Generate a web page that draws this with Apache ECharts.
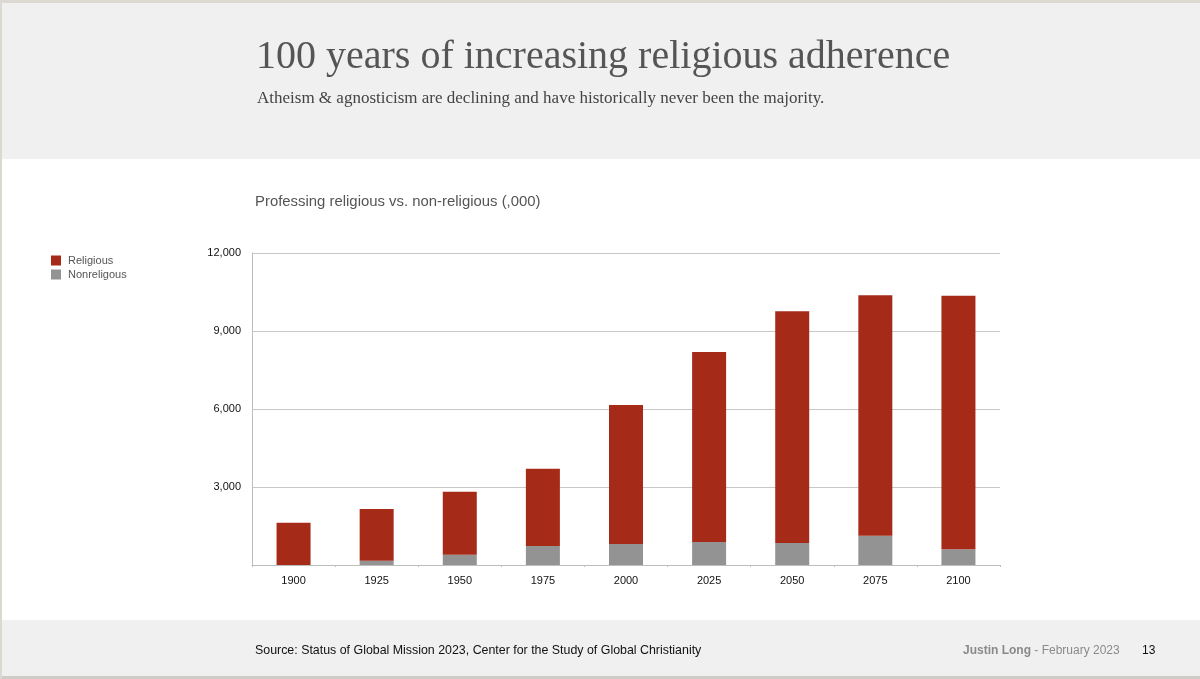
<!DOCTYPE html>
<html>
<head>
<meta charset="utf-8">
<script src="https://cdn.jsdelivr.net/npm/echarts@6/dist/echarts.min.js"></script>
<style>
  html, body { margin: 0; padding: 0; background: #fff; }
  #renderChart { width: 1200px; height: 679px; }
</style>
</head>
<body>
<div id="renderChart"></div>
<script>
// data (thousands)
const years = ['1900', '1925', '1950', '1975', '2000', '2025', '2050', '2075', '2100'];
const nonreligious = [3, 165, 397, 731, 808, 885, 846, 1128, 603];
const religious = [1624, 1989, 2423, 2974, 5346, 7307, 8910, 9244, 9756];
const yTicks = [0, 3000, 6000, 9000, 12000];

const myChart = echarts.init(document.getElementById('renderChart'));

const option = {
  backgroundColor: '#fff',
  animation: false,
  graphic: [
    // header / footer bands + frame
    { type: 'rect', shape: { x: 0, y: 0, width: 1200, height: 159 }, style: { fill: '#f0f0f0' }, z: -10 },
    { type: 'rect', shape: { x: 0, y: 620, width: 1200, height: 59 }, style: { fill: '#f0f0f0' }, z: -10 },
    { type: 'rect', shape: { x: 0, y: 0, width: 1200, height: 3 }, style: { fill: '#dcd8d2' }, z: -9 },
    { type: 'rect', shape: { x: 0, y: 676, width: 1200, height: 3 }, style: { fill: '#cfcbc6' }, z: -9 },
    { type: 'rect', shape: { x: 0, y: 0, width: 2, height: 679 }, style: { fill: '#dcd8d2' }, z: -9 },
    {
      type: 'text', left: 256, top: 37,
      style: { text: '100 years of increasing religious adherence', font: '40px "Liberation Serif"', fill: '#555' }
    },
    {
      type: 'text', left: 257, top: 90,
      style: { text: 'Atheism & agnosticism are declining and have historically never been the majority.', font: '17px "Liberation Serif"', fill: '#444' }
    },
    {
      type: 'text', left: 255, top: 194,
      style: { text: 'Professing religious vs. non-religious (,000)', font: '14.9px "Liberation Sans"', fill: '#555' }
    },
    {
      type: 'text', left: 255, top: 645,
      style: { text: 'Source: Status of Global Mission 2023, Center for the Study of Global Christianity', font: '12.4px "Liberation Sans"', fill: '#111' }
    },
    {
      type: 'text', left: 963, top: 645,
      style: { text: '{b|Justin Long} - February 2023', font: '12px "Liberation Sans"', fill: '#8a8a8a',
        rich: { b: { fontWeight: 'bold', fontFamily: 'Liberation Sans', fontSize: 12, fill: '#8a8a8a' } } }
    },
    {
      type: 'text', left: 1142, top: 645,
      style: { text: '13', font: '12px "Liberation Sans"', fill: '#111' }
    }
  ],
  legend: {
    orient: 'vertical',
    left: 51,
    top: 255,
    padding: 0,
    itemWidth: 10,
    itemHeight: 10,
    itemGap: 3,
    icon: 'rect',
    textStyle: { fontFamily: 'Liberation Sans', fontSize: 11, color: '#555', padding: [0, 0, 0, 2] },
    data: ['Religious', 'Nonreligous']
  },
  grid: { left: 252, right: 200, top: 253, bottom: 114, containLabel: false },
  xAxis: {
    type: 'category',
    data: years,
    axisLine: { lineStyle: { color: '#bdbdbd' } },
    axisTick: { show: true, length: 2, lineStyle: { color: '#bdbdbd' } },
    axisLabel: { fontFamily: 'Liberation Sans', fontSize: 11, color: '#111', margin: 10 }
  },
  yAxis: {
    type: 'value',
    min: yTicks[0],
    max: yTicks[yTicks.length - 1],
    interval: 3000,
    axisLine: { show: true, lineStyle: { color: '#bdbdbd' } },
    axisTick: { show: false },
    splitLine: { lineStyle: { color: '#c8c8c8' } },
    axisLabel: {
      fontFamily: 'Liberation Sans', fontSize: 11, color: '#111', margin: 11,
      formatter: v => v === 0 ? '' : v.toLocaleString('en-US')
    }
  },
  series: [
    {
      name: 'Nonreligous',
      type: 'bar',
      stack: 'total',
      barWidth: 34,
      itemStyle: { color: '#939393' },
      data: nonreligious
    },
    {
      name: 'Religious',
      type: 'bar',
      stack: 'total',
      barWidth: 34,
      itemStyle: { color: '#a52a18' },
      data: religious
    }
  ]
};

myChart.setOption(option);
</script>
</body>
</html>
